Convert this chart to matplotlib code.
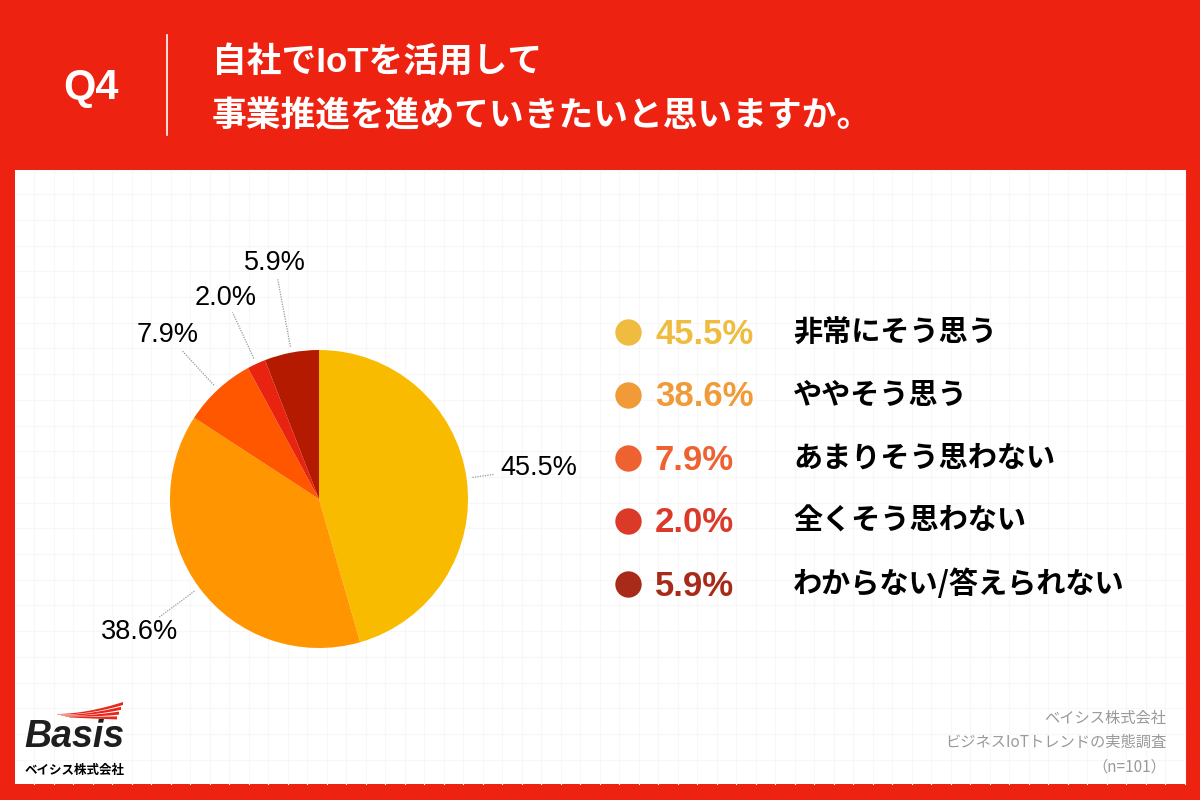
import numpy as np
import matplotlib.pyplot as plt
from matplotlib.patches import Rectangle, Polygon

plt.rcParams['font.family'] = ['Liberation Sans', 'Noto Sans CJK JP', 'DejaVu Sans']

# data
question = "Q4"
title_lines = ["自社でIoTを活用して", "事業推進を進めていきたいと思いますか。"]
labels = ["非常にそう思う", "ややそう思う", "あまりそう思わない",
          "全くそう思わない", "わからない/答えられない"]
values = [45.5, 38.6, 7.9, 2.0, 5.9]
source_lines = ["ベイシス株式会社", "ビジネスIoTトレンドの実態調査", "（n=101）"]
company = "ベイシス株式会社"

pie_colors = ["#F9BB00", "#FF9500", "#FF5700", "#E8230F", "#B41A00"]
legend_colors = ["#F0BC40", "#F09A38", "#EE6232", "#DC3A28", "#A82A18"]
RED = "#EE2211"

W, H = 1200, 800


def Y(y):
    # image coords (top-down) -> axes coords
    return H - y


fig = plt.figure(figsize=(12, 8), dpi=100, facecolor=RED)
ax = fig.add_axes([0, 0, 1, 1])

# white panel with faint grid
ax.add_patch(Rectangle((15, Y(784)), 1170, 614, facecolor="white",
                       edgecolor="none", zorder=0))
for gx in np.arange(34.3, 1185, 19.5):
    ax.plot([gx, gx], [Y(784), Y(170)], color="#F7F7F7", lw=0.8, zorder=0.5)
for gy in np.arange(194.3, 784, 25.7):
    ax.plot([15, 1185], [Y(gy), Y(gy)], color="#F7F7F7", lw=0.8, zorder=0.5)

# header
ax.text(91, Y(88), question, color="white", fontsize=30, fontweight="bold",
        ha="center", va="center")
ax.plot([167, 167], [Y(35), Y(135)], color="white", lw=1.2)
ax.text(212, Y(62), title_lines[0], color="white", fontsize=25,
        fontweight="bold", ha="left", va="center")
ax.text(212, Y(117), title_lines[1], color="white", fontsize=25,
        fontweight="bold", ha="left", va="center")

# pie
cx, cy, r = 319, Y(499), 149
wedges, _ = ax.pie(values, colors=pie_colors, startangle=90, counterclock=False,
                   center=(cx, cy), radius=r, frame=True,
                   wedgeprops=dict(linewidth=0))

line_end = [1.19, 1.34, 1.35, 1.38, 1.50]
label_dist = [1.49, 1.50, 1.50, 1.49, 1.61]
for w, v, le, ld in zip(wedges, values, line_end, label_dist):
    ang = np.deg2rad((w.theta1 + w.theta2) / 2)
    ca, sa = np.cos(ang), np.sin(ang)
    ax.plot([cx + 1.04 * r * ca, cx + le * r * ca],
            [cy + 1.04 * r * sa, cy + le * r * sa],
            color="#9A9A9A", lw=0.9, ls=(0, (1, 1)))
    ax.text(cx + ld * r * ca, cy + ld * r * sa, f"{v:.1f}%", fontsize=19.5,
            color="black", ha="center", va="center")

# legend
for i, (lab, v, c) in enumerate(zip(labels, values, legend_colors)):
    y = Y(332 + 63 * i)
    ax.plot(628, y, "o", ms=19, color=c, mec="none")
    ax.text(655, y - 2, f"{v:.1f}%", fontsize=25, fontweight="bold", color=c,
            ha="left", va="center")
    ax.text(793, y, lab, fontsize=21, fontweight="bold", color="black",
            ha="left", va="center", family=["Noto Sans CJK JP", "DejaVu Sans"])

# source
for i, s in enumerate(source_lines):
    ax.text(1166, Y(718 + 24.5 * i), s, fontsize=11, color="#9A9A9A",
            ha="right", va="center", family=["Noto Sans CJK JP", "DejaVu Sans"])

# logo
t = np.linspace(0, 1, 40)
for i in range(4):
    xl, xr = 57 + 4 * i, 123 - 2 * i
    yl, yr = 714 + 1.0 * i, 702 + 4.8 * i
    xs = xl + (xr - xl) * t
    ys = yl + (yr - yl) * t ** 1.8
    th = 0.4 + 2.6 * t
    pts = np.column_stack([np.r_[xs, xs[::-1]],
                           np.r_[Y(ys), Y(ys + th)[::-1]]])
    ax.add_patch(Polygon(pts, closed=True, facecolor="#E8261A",
                         edgecolor="none"))
ax.text(24, Y(737), "Basis", fontsize=27, fontweight="bold", style="italic",
        color="#1E1E1E", ha="left", va="center")
ax.text(25, Y(770), company, fontsize=9, fontweight="bold", color="black",
        ha="left", va="center", family=["Noto Sans CJK JP", "DejaVu Sans"])

ax.set_xlim(0, W)
ax.set_ylim(0, H)
ax.set_aspect("equal")
ax.axis("off")

fig.savefig("out.png", dpi=100, facecolor=RED)
